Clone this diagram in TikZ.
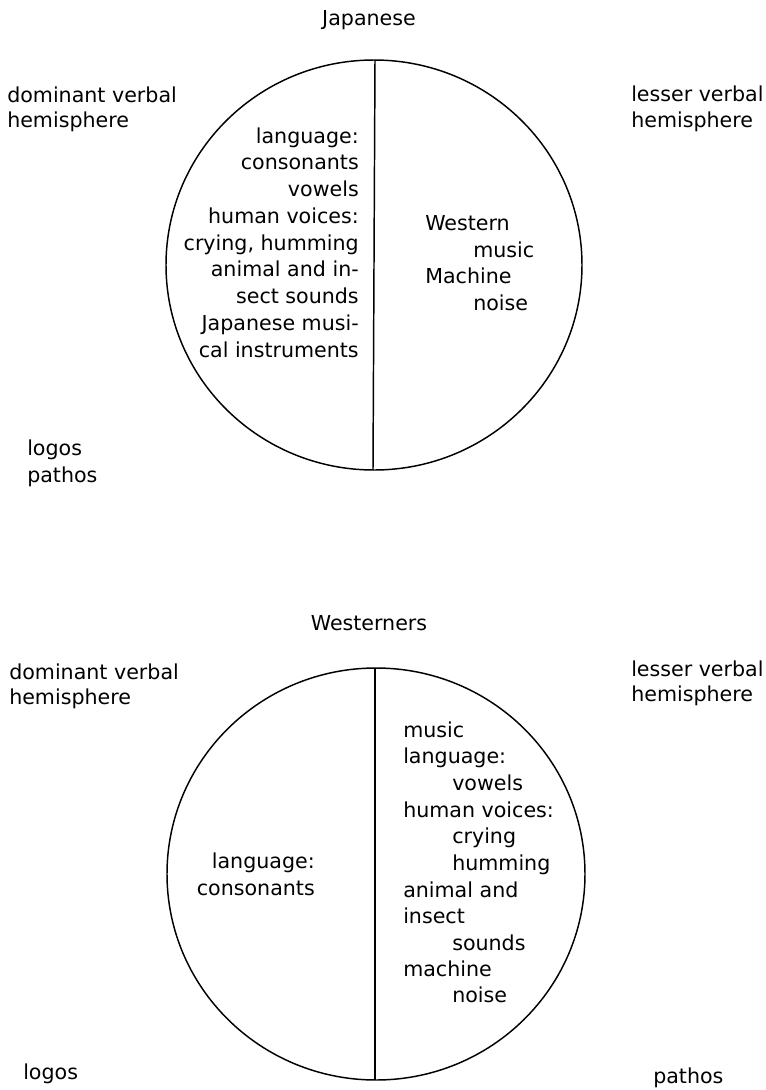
\documentclass[tikz,border=0pt]{standalone}
\usepackage{fontspec}
\setmainfont{DejaVu Sans}
\begin{document}
\begin{tikzpicture}[x=0.75pt,y=-0.75pt,
  txt/.style={inner sep=0pt, font=\fontsize{15.45}{19}\selectfont},
  rim/.style={line width=1.1pt}]
\fill[white] (0,0) rectangle (766,1090);
\useasboundingbox (0,0) rectangle (766,1090);

% ---------- Japanese ----------
\node[txt, anchor=base] (jtitle) at (369,25) {Japanese};
\draw[rim] (374,265) ellipse [x radius=208, y radius=205];
\coordinate (jtop) at (375,60);
\coordinate (jbot) at (373,470);
\draw[rim] (jtop) -- (jbot);

\node[txt, anchor=base west] (jdom1) at (7,102) {dominant verbal};
\node[txt, anchor=base west] (jdom2) at (7,127) {hemisphere};
\node[txt, anchor=base west] (jles1) at (631,101) {lesser verbal};
\node[txt, anchor=base west] (jles2) at (631,127) {hemisphere};
\node[txt, anchor=base west] (jlogos) at (27,455) {logos};
\node[txt, anchor=base west] (jpathos) at (27,482) {pathos};

\foreach \t [count=\i] in {{language:},{consonants},{vowels},{human voices:},{crying, humming},{animal and in-},{sect sounds},{Japanese musi-},{cal instruments}}
  \node[txt, anchor=base east] (jl\i) at (359,{143+26.75*(\i-1)}) {\t};

\node[txt, anchor=base west] (jr1) at (425,230) {Western};
\node[txt, anchor=base west] (jr2) at (473,257) {music};
\node[txt, anchor=base west] (jr3) at (425,283) {Machine};
\node[txt, anchor=base west] (jr4) at (473,310) {noise};

% ---------- Westerners ----------
\node[txt, anchor=base] (wtitle) at (369,630) {Westerners};
\draw[rim] (376,874) ellipse [x radius=209, y radius=206];
\coordinate (wtop) at (375,668);
\coordinate (wbot) at (375,1080);
\draw[rim] (wtop) -- (wbot);

\node[txt, anchor=base west] (wdom1) at (9,679) {dominant verbal};
\node[txt, anchor=base west] (wdom2) at (9,704) {hemisphere};
\node[txt, anchor=base west] (wles1) at (631,676) {lesser verbal};
\node[txt, anchor=base west] (wles2) at (631,701) {hemisphere};
\node[txt, anchor=base west] (wlogos) at (23,1079) {logos};
\node[txt, anchor=base west] (wpathos) at (653,1083) {pathos};

\node[txt, anchor=base east] (wl1) at (315,868) {language:};
\node[txt, anchor=base east] (wl2) at (315,895) {consonants};

\node[txt, anchor=base west] (wr1) at (403,737) {music};
\node[txt, anchor=base west] (wr2) at (403,763) {language:};
\node[txt, anchor=base west] (wr3) at (452,790) {vowels};
\node[txt, anchor=base west] (wr4) at (403,817) {human voices:};
\node[txt, anchor=base west] (wr5) at (452,843) {crying};
\node[txt, anchor=base west] (wr6) at (452,870) {humming};
\node[txt, anchor=base west] (wr7) at (403,897) {animal and};
\node[txt, anchor=base west] (wr8) at (403,923) {insect};
\node[txt, anchor=base west] (wr9) at (452,950) {sounds};
\node[txt, anchor=base west] (wr10) at (403,976) {machine};
\node[txt, anchor=base west] (wr11) at (452,1002) {noise};
\end{tikzpicture}
\end{document}
